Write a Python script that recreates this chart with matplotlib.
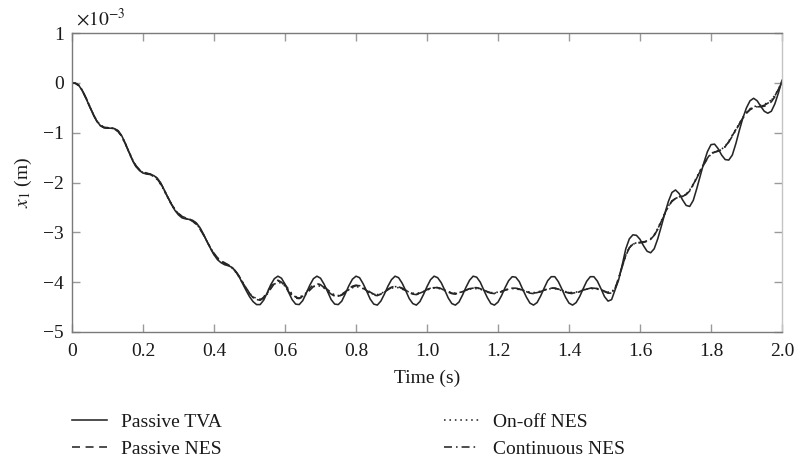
import numpy as np
import matplotlib
matplotlib.use("Agg")
import matplotlib.pyplot as plt

plt.rcParams['font.family'] = ['Liberation Serif', 'DejaVu Serif']
plt.rcParams['mathtext.fontset'] = 'stix'

# ---------------- data (displacement in units of 1e-3 m) ----------------
time_s = np.linspace(0.0, 2.0, 201)

passive_tva = [
    0.00, -0.01, -0.06, -0.17, -0.32, -0.48, -0.64, -0.77, -0.86, -0.90,
    -0.91, -0.91, -0.92, -0.96, -1.06, -1.21, -1.38, -1.55, -1.68, -1.76,
    -1.81, -1.83, -1.84, -1.86, -1.91, -2.01, -2.15, -2.30, -2.44, -2.56,
    -2.65, -2.71, -2.73, -2.74, -2.76, -2.81, -2.90, -3.03, -3.18, -3.32,
    -3.45, -3.55, -3.61, -3.65, -3.67, -3.70, -3.77, -3.88, -4.02, -4.16,
    -4.29, -4.39, -4.45, -4.45, -4.36, -4.21, -4.05, -3.93, -3.88, -3.92,
    -4.04, -4.20, -4.35, -4.44, -4.45, -4.37, -4.22, -4.06, -3.93, -3.88,
    -3.92, -4.04, -4.19, -4.35, -4.44, -4.45, -4.38, -4.23, -4.07, -3.94,
    -3.88, -3.91, -4.03, -4.18, -4.34, -4.44, -4.46, -4.38, -4.24, -4.08,
    -3.95, -3.88, -3.91, -4.02, -4.17, -4.33, -4.43, -4.46, -4.39, -4.25,
    -4.09, -3.95, -3.88, -3.91, -4.01, -4.16, -4.32, -4.43, -4.46, -4.40,
    -4.26, -4.10, -3.96, -3.88, -3.90, -4.00, -4.16, -4.31, -4.43, -4.46,
    -4.40, -4.27, -4.11, -3.97, -3.89, -3.90, -3.99, -4.15, -4.30, -4.42,
    -4.46, -4.41, -4.28, -4.12, -3.97, -3.89, -3.89, -3.99, -4.14, -4.30,
    -4.42, -4.46, -4.41, -4.29, -4.13, -3.98, -3.89, -3.89, -3.98, -4.13,
    -4.29, -4.38, -4.35, -4.15, -3.95, -3.65, -3.33, -3.13, -3.05, -3.06,
    -3.14, -3.27, -3.38, -3.41, -3.33, -3.13, -2.88, -2.62, -2.38, -2.20,
    -2.15, -2.22, -2.35, -2.46, -2.48, -2.36, -2.12, -1.86, -1.60, -1.38,
    -1.24, -1.23, -1.32, -1.45, -1.54, -1.55, -1.45, -1.22, -0.95, -0.70,
    -0.50, -0.36, -0.31, -0.36, -0.47, -0.57, -0.61, -0.57, -0.42, -0.20,
    0.05,
]

passive_nes = [
    0.00, -0.01, -0.06, -0.17, -0.32, -0.48, -0.64, -0.77, -0.85, -0.89,
    -0.90, -0.91, -0.93, -0.98, -1.08, -1.22, -1.38, -1.54, -1.66, -1.74,
    -1.79, -1.81, -1.83, -1.87, -1.93, -2.03, -2.16, -2.30, -2.43, -2.54,
    -2.62, -2.68, -2.71, -2.74, -2.78, -2.84, -2.93, -3.05, -3.18, -3.31,
    -3.42, -3.51, -3.57, -3.61, -3.65, -3.70, -3.78, -3.88, -4.00, -4.12,
    -4.23, -4.31, -4.35, -4.36, -4.30, -4.20, -4.08, -4.00, -3.96, -4.00,
    -4.08, -4.19, -4.28, -4.32, -4.33, -4.28, -4.20, -4.12, -4.05, -4.03,
    -4.05, -4.11, -4.18, -4.24, -4.28, -4.29, -4.25, -4.19, -4.13, -4.08,
    -4.06, -4.08, -4.12, -4.17, -4.23, -4.26, -4.27, -4.24, -4.19, -4.14,
    -4.10, -4.08, -4.09, -4.13, -4.17, -4.21, -4.24, -4.25, -4.23, -4.19,
    -4.15, -4.12, -4.10, -4.11, -4.13, -4.17, -4.20, -4.23, -4.24, -4.22,
    -4.19, -4.16, -4.13, -4.11, -4.11, -4.13, -4.17, -4.20, -4.22, -4.23,
    -4.21, -4.19, -4.16, -4.13, -4.12, -4.12, -4.14, -4.17, -4.19, -4.22,
    -4.23, -4.22, -4.19, -4.16, -4.13, -4.12, -4.12, -4.14, -4.16, -4.20,
    -4.22, -4.23, -4.22, -4.19, -4.16, -4.13, -4.12, -4.12, -4.13, -4.16,
    -4.19, -4.22, -4.22, -4.12, -3.92, -3.68, -3.46, -3.31, -3.24, -3.22,
    -3.21, -3.20, -3.18, -3.14, -3.06, -2.93, -2.78, -2.62, -2.47, -2.37,
    -2.32, -2.30, -2.28, -2.24, -2.16, -2.04, -1.90, -1.77, -1.63, -1.51,
    -1.43, -1.39, -1.37, -1.34, -1.28, -1.18, -1.06, -0.94, -0.82, -0.70,
    -0.60, -0.53, -0.49, -0.48, -0.48, -0.47, -0.44, -0.38, -0.28, -0.14,
    0.02,
]

onoff_nes = [
    0.00, -0.01, -0.06, -0.16, -0.31, -0.47, -0.63, -0.76, -0.85, -0.89,
    -0.90, -0.90, -0.92, -0.97, -1.07, -1.21, -1.37, -1.53, -1.66, -1.75,
    -1.80, -1.82, -1.84, -1.88, -1.94, -2.04, -2.17, -2.31, -2.44, -2.55,
    -2.63, -2.68, -2.71, -2.73, -2.77, -2.83, -2.92, -3.04, -3.18, -3.31,
    -3.43, -3.52, -3.58, -3.62, -3.66, -3.71, -3.79, -3.89, -4.01, -4.12,
    -4.22, -4.29, -4.33, -4.34, -4.30, -4.22, -4.12, -4.04, -4.00, -4.02,
    -4.08, -4.17, -4.25, -4.29, -4.30, -4.27, -4.21, -4.14, -4.09, -4.07,
    -4.08, -4.12, -4.18, -4.23, -4.26, -4.27, -4.24, -4.20, -4.15, -4.11,
    -4.09, -4.10, -4.13, -4.17, -4.22, -4.24, -4.25, -4.23, -4.19, -4.15,
    -4.12, -4.11, -4.11, -4.14, -4.17, -4.20, -4.22, -4.23, -4.21, -4.19,
    -4.16, -4.13, -4.12, -4.12, -4.14, -4.17, -4.19, -4.21, -4.22, -4.21,
    -4.19, -4.16, -4.14, -4.13, -4.13, -4.14, -4.17, -4.19, -4.21, -4.21,
    -4.20, -4.18, -4.16, -4.14, -4.13, -4.13, -4.15, -4.17, -4.19, -4.20,
    -4.21, -4.20, -4.18, -4.16, -4.14, -4.13, -4.13, -4.15, -4.17, -4.19,
    -4.20, -4.21, -4.20, -4.18, -4.16, -4.14, -4.13, -4.13, -4.14, -4.16,
    -4.18, -4.20, -4.20, -4.11, -3.91, -3.67, -3.45, -3.30, -3.23, -3.21,
    -3.20, -3.19, -3.17, -3.13, -3.05, -2.92, -2.77, -2.61, -2.47, -2.37,
    -2.32, -2.29, -2.27, -2.23, -2.15, -2.03, -1.89, -1.75, -1.62, -1.50,
    -1.42, -1.38, -1.36, -1.33, -1.27, -1.17, -1.05, -0.93, -0.81, -0.69,
    -0.59, -0.52, -0.48, -0.46, -0.45, -0.43, -0.40, -0.34, -0.25, -0.12,
    0.03,
]

continuous_nes = [
    0.00, -0.01, -0.05, -0.16, -0.31, -0.47, -0.63, -0.77, -0.86, -0.90,
    -0.91, -0.91, -0.92, -0.97, -1.07, -1.22, -1.39, -1.55, -1.67, -1.75,
    -1.80, -1.82, -1.83, -1.86, -1.92, -2.02, -2.15, -2.29, -2.43, -2.55,
    -2.63, -2.69, -2.72, -2.74, -2.77, -2.82, -2.91, -3.04, -3.18, -3.32,
    -3.44, -3.53, -3.59, -3.63, -3.66, -3.70, -3.77, -3.87, -3.99, -4.11,
    -4.22, -4.30, -4.35, -4.36, -4.32, -4.24, -4.13, -4.03, -3.98, -3.99,
    -4.05, -4.14, -4.24, -4.30, -4.32, -4.30, -4.24, -4.16, -4.09, -4.05,
    -4.05, -4.09, -4.15, -4.21, -4.26, -4.28, -4.26, -4.21, -4.15, -4.10,
    -4.07, -4.07, -4.10, -4.15, -4.20, -4.24, -4.26, -4.24, -4.20, -4.15,
    -4.11, -4.09, -4.09, -4.12, -4.16, -4.20, -4.23, -4.24, -4.22, -4.19,
    -4.15, -4.12, -4.11, -4.11, -4.13, -4.16, -4.19, -4.22, -4.23, -4.22,
    -4.19, -4.16, -4.13, -4.12, -4.12, -4.13, -4.16, -4.19, -4.21, -4.22,
    -4.21, -4.19, -4.16, -4.14, -4.12, -4.12, -4.14, -4.16, -4.19, -4.21,
    -4.22, -4.21, -4.19, -4.16, -4.14, -4.12, -4.12, -4.14, -4.16, -4.19,
    -4.21, -4.22, -4.21, -4.19, -4.16, -4.14, -4.12, -4.12, -4.13, -4.15,
    -4.18, -4.21, -4.21, -4.13, -3.93, -3.69, -3.47, -3.31, -3.24, -3.21,
    -3.20, -3.19, -3.18, -3.14, -3.06, -2.94, -2.79, -2.63, -2.48, -2.38,
    -2.32, -2.29, -2.27, -2.24, -2.17, -2.05, -1.91, -1.77, -1.64, -1.52,
    -1.43, -1.39, -1.37, -1.34, -1.28, -1.19, -1.07, -0.95, -0.83, -0.71,
    -0.61, -0.54, -0.50, -0.48, -0.47, -0.45, -0.41, -0.35, -0.26, -0.13,
    0.02,
]

series_labels = ['Passive TVA', 'Passive NES', 'On-off NES', 'Continuous NES']
x_ticks = [0.0, 0.2, 0.4, 0.6, 0.8, 1.0, 1.2, 1.4, 1.6, 1.8, 2.0]
x_tick_labels = ['0', '0.2', '0.4', '0.6', '0.8', '1.0', '1.2', '1.4', '1.6', '1.8', '2.0']
y_ticks = [1, 0, -1, -2, -3, -4, -5]
y_tick_labels = ['1', '0', '\u22121', '\u22122', '\u22123', '\u22124', '\u22125']

# ---------------- figure ----------------
W, H = 796, 462
fig = plt.figure(figsize=(W / 100, H / 100), dpi=100)
ax = fig.add_axes([72 / W, 1 - 332 / H, (782 - 72) / W, (332 - 33) / H])

line_color = '#262626'
lw = 1.15
styles = [
    dict(linestyle='-'),
    dict(linestyle=(0, (5, 3.5))),
    dict(linestyle=(0, (1, 2.4))),
    dict(linestyle=(0, (5, 2.5, 1, 2.5))),
]
data = [passive_tva, passive_nes, onoff_nes, continuous_nes]
handles = []
for vals, st, lab in zip(data, styles, series_labels):
    h, = ax.plot(time_s, np.asarray(vals), color=line_color, lw=lw, label=lab, **st)
    handles.append(h)

ax.set_xlim(0, 2.0)
ax.set_ylim(-5, 1)
ax.set_xticks(x_ticks)
ax.set_xticklabels(x_tick_labels)
ax.set_yticks(y_ticks)
ax.set_yticklabels(y_tick_labels)

spine_col = '#7a7a7a'
for s in ['left', 'bottom', 'top']:
    ax.spines[s].set_color(spine_col)
    ax.spines[s].set_linewidth(1.0)
ax.spines['right'].set_color('#c4c4c4')
ax.spines['right'].set_linewidth(1.0)

ax.tick_params(axis='both', which='major', direction='in', length=6, width=1.0,
               color='#9a9a9a', labelsize=14, labelcolor='#1a1a1a',
               top=True, right=True)
ax.tick_params(axis='x', pad=8)
ax.tick_params(axis='y', pad=6)

ax.set_xlabel('Time (s)', fontsize=14, color='#1a1a1a', labelpad=7)
ax.set_ylabel(r'$x_1$ (m)', fontsize=14, color='#1a1a1a', labelpad=6)

ax.text(0.006, 1.012, r'$\times10^{-3}$', transform=ax.transAxes,
        ha='left', va='bottom', fontsize=14, color='#1a1a1a')

leg_kw = dict(frameon=False, fontsize=14, handlelength=1.8, handletextpad=0.7,
              labelspacing=0.48, borderpad=0, borderaxespad=0, loc='upper left')
leg1 = fig.legend(handles[:2], series_labels[:2],
                  bbox_to_anchor=(72 / W, 1 - 413 / H), **leg_kw)
leg2 = fig.legend(handles[2:], series_labels[2:],
                  bbox_to_anchor=(444 / W, 1 - 413 / H), **leg_kw)
for lg in (leg1, leg2):
    for t in lg.get_texts():
        t.set_color('#1a1a1a')

fig.savefig('out.png', dpi=100)
